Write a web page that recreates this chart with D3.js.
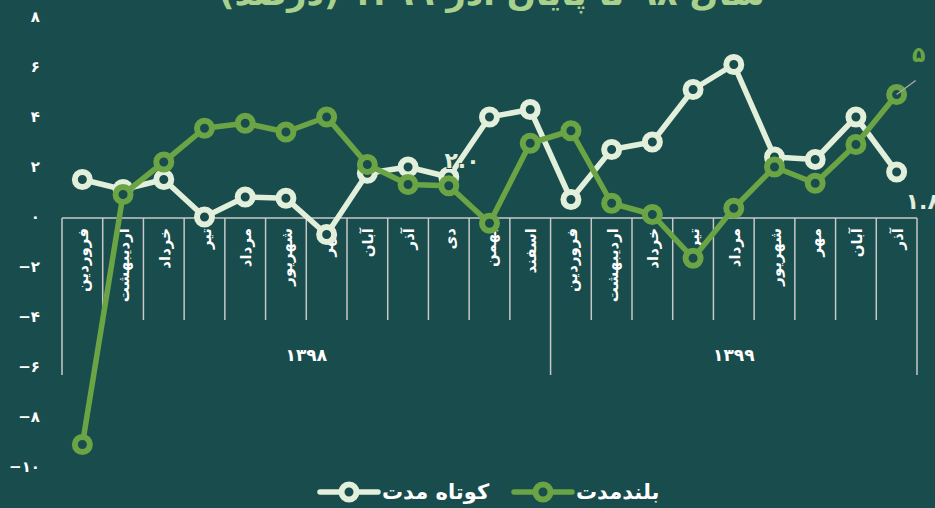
<!DOCTYPE html>
<head>
    <meta charset="utf-8">
    <script src="https://d3js.org/d3.v7.min.js"></script>
    <style>
        body { margin:0; background:#194c4c; overflow:hidden; }
        text { font-family: "DejaVu Sans", sans-serif; font-weight: bold; }
    </style>
</head>

<body>
<div id="chart"></div>
<script>

    // ******************** Data ************************
    var months98 = ["فروردین", "اردیبهشت", "خرداد", "تیر", "مرداد", "شهریور", "مهر", "آبان", "آذر", "دی", "بهمن", "اسفند"];
    var months99 = ["فروردین", "اردیبهشت", "خرداد", "تیر", "مرداد", "شهریور", "مهر", "آبان", "آذر"];
    var years = ["۱۳۹۸", "۱۳۹۹"];

    // کوتاه مدت
    var shortTerm = [1.5, 1.1, 1.5, 0.0, 0.8, 0.75, -0.7, 1.75, 2.0, 1.6, 4.0, 4.3,
                     0.7, 2.7, 3.0, 5.1, 6.1, 2.4, 2.3, 4.0, 1.8];
    // بلندمدت
    var longTerm = [-9.1, 0.9, 2.2, 3.55, 3.75, 3.4, 4.0, 2.1, 1.3, 1.25, -0.25, 2.95,
                    3.45, 0.55, 0.1, -1.65, 0.35, 2.0, 1.35, 2.9, 4.9];

    var yTicks = [8, 6, 4, 2, 0, -2, -4, -6, -8, -10];
    var seriesNames = ["کوتاه مدت", "بلندمدت"];
    var title = "سال ۹۸ تا پایان آذر ۱۳۹۹ (درصد)";

    // ******************** Globals ************************
    var W = 935, H = 508;
    var bg = "#194c4c", cream = "#e2efda", green = "#6aa444", axisGray = "#c8c8c8";

    var months = months98.concat(months99);
    var idx = d3.range(months.length);

    var x = d3.scaleBand().domain(idx).range([62, 917]);
    var y = d3.scaleLinear().domain([-10, 8]).range([467, 17]);
    var cx = function (i) { return x(i) + x.bandwidth() / 2; };

    // persian digits
    var fa = function (v) {
        return String(v).replace(/-/g, "−").replace(/\d/g, function (c) { return "۰۱۲۳۴۵۶۷۸۹"[+c]; });
    };

    var svg = d3.select("#chart").append("svg")
        .attr("width", W)
        .attr("height", H);

    svg.append("rect").attr("width", W).attr("height", H).attr("fill", bg);

    // title, mostly cut at the top edge
    svg.append("text")
        .attr("x", 492)
        .attr("y", 5)
        .attr("text-anchor", "middle")
        .attr("fill", "#a9d18e")
        .style("font-size", "34px")
        .text(title);

    // y labels
    svg.append("g").selectAll("text")
        .data(yTicks)
        .enter().append("text")
        .attr("x", 40)
        .attr("y", function (d) { return y(d); })
        .attr("dy", "0.35em")
        .attr("text-anchor", "end")
        .attr("fill", "white")
        .style("font-size", "15px")
        .text(fa);

    // ******************** Category axis ************************
    var axisY = y(0) + 1;
    var gAxis = svg.append("g").attr("stroke", axisGray).attr("stroke-width", 1.5);

    gAxis.append("line")
        .attr("x1", x(0)).attr("x2", x(months.length - 1) + x.bandwidth())
        .attr("y1", axisY).attr("y2", axisY);

    // month dividers
    gAxis.selectAll(".mtick")
        .data(d3.range(months.length + 1))
        .enter().append("line")
        .attr("x1", function (i) { return i < months.length ? x(i) : x(i - 1) + x.bandwidth(); })
        .attr("x2", function (i) { return i < months.length ? x(i) : x(i - 1) + x.bandwidth(); })
        .attr("y1", axisY)
        .attr("y2", function (i) { return (i === 0 || i === 12 || i === months.length) ? 375 : 320; });

    svg.append("g").selectAll("text")
        .data(idx)
        .enter().append("text")
        .attr("transform", function (i) { return "translate(" + (cx(i) + 1) + "," + 228 + ") rotate(-90)"; })
        .attr("text-anchor", "end")
        .attr("dominant-baseline", "central")
        .attr("fill", "white")
        .style("font-size", "15px")
        .text(function (i) { return months[i]; });

    // year labels
    var yearSpans = [[0, 11], [12, months.length - 1]];
    svg.append("g").selectAll("text")
        .data(years)
        .enter().append("text")
        .attr("x", function (d, k) { return (x(yearSpans[k][0]) + x(yearSpans[k][1]) + x.bandwidth()) / 2; })
        .attr("y", 355)
        .attr("dy", "0.35em")
        .attr("text-anchor", "middle")
        .attr("fill", "white")
        .style("font-size", "17px")
        .text(function (d) { return d; });

    // ******************** Series ************************
    var line = d3.line()
        .x(function (d, i) { return cx(i); })
        .y(function (d) { return y(d); });

    function drawSeries(values, color) {
        var g = svg.append("g");
        g.append("path")
            .attr("d", line(values))
            .attr("fill", "none")
            .attr("stroke", color)
            .attr("stroke-width", 5.5)
            .attr("stroke-linejoin", "round");
        g.selectAll("circle")
            .data(values)
            .enter().append("circle")
            .attr("cx", function (d, i) { return cx(i); })
            .attr("cy", function (d) { return y(d); })
            .attr("r", 7.5)
            .attr("fill", bg)
            .attr("stroke", color)
            .attr("stroke-width", 6);
        return g;
    }

    drawSeries(shortTerm, cream);

    // half hidden label near دی
    svg.append("text")
        .attr("x", 462)
        .attr("y", 168)
        .attr("text-anchor", "middle")
        .attr("fill", cream)
        .attr("stroke", bg)
        .attr("stroke-width", 2)
        .style("paint-order", "stroke")
        .style("font-size", "22px")
        .text("۲.۰");

    drawSeries(longTerm, green);

    // end labels
    var last = months.length - 1;
    svg.append("line")
        .attr("x1", cx(last)).attr("y1", y(longTerm[last]))
        .attr("x2", cx(last) + 19).attr("y2", y(longTerm[last]) - 14)
        .attr("stroke", "#a6a6a6")
        .attr("stroke-width", 1.5);

    svg.append("text")
        .attr("x", cx(last) + 22)
        .attr("y", y(longTerm[last]) - 33)
        .attr("text-anchor", "middle")
        .attr("fill", green)
        .style("font-size", "22px")
        .text(fa(5));

    svg.append("text")
        .attr("x", cx(last) + 9)
        .attr("y", y(shortTerm[last]) + 37)
        .attr("text-anchor", "start")
        .attr("fill", cream)
        .style("font-size", "22px")
        .text(fa(1.8));

    // ******************** Legend ************************
    var legend = [
        {name: seriesNames[0], color: cream, x0: 320},
        {name: seriesNames[1], color: green, x0: 514}
    ];
    var lg = svg.append("g").selectAll("g")
        .data(legend)
        .enter().append("g")
        .attr("transform", function (d) { return "translate(" + d.x0 + ",492)"; });

    lg.append("line")
        .attr("x1", 0).attr("x2", 58)
        .attr("stroke", function (d) { return d.color; })
        .attr("stroke-width", 5.5)
        .attr("stroke-linecap", "round");
    lg.append("circle")
        .attr("cx", 29)
        .attr("r", 7.5)
        .attr("fill", bg)
        .attr("stroke", function (d) { return d.color; })
        .attr("stroke-width", 6);
    lg.append("text")
        .attr("x", 62)
        .attr("dy", "0.35em")
        .attr("text-anchor", "start")
        .attr("fill", "white")
        .style("font-size", "21px")
        .text(function (d) { return d.name; });

</script>
</body>
